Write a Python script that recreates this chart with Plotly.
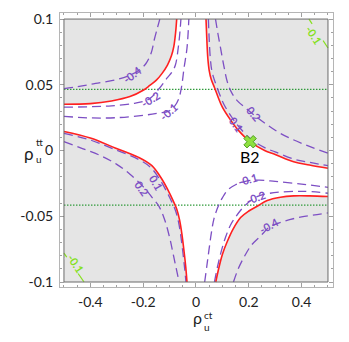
import plotly.graph_objects as go

# axis ticks
x_tickvals = [-0.4, -0.2, 0, 0.2, 0.4]
x_ticktext = ["-0.4", "-0.2", "0", "0.2", "0.4"]
y_tickvals = [-0.1, -0.05, 0, 0.05, 0.1]
y_ticktext = ["-0.1", "-0.05", "0", "0.05", "0.1"]

# red boundary, four branches
red_ul_x = [-0.5, -0.4, -0.32, -0.25, -0.2, -0.175, -0.15, -0.129, -0.108, -0.093, -0.084, -0.077, -0.073]
red_ul_y = [0.0352, 0.0357, 0.0377, 0.041, 0.0458, 0.0495, 0.0535, 0.0585, 0.065, 0.072, 0.079, 0.09, 0.1]
red_ur_x = [0.038, 0.041, 0.045, 0.05, 0.058, 0.07, 0.085, 0.1, 0.13, 0.16, 0.205, 0.26, 0.3, 0.37, 0.43, 0.5]
red_ur_y = [0.1, 0.085, 0.07, 0.061, 0.054, 0.048, 0.04, 0.033, 0.0235, 0.0155, 0.0067, 0.0, -0.003, -0.0085, -0.011, -0.0135]
red_ll_x = [-0.5, -0.4, -0.306, -0.217, -0.167, -0.13, -0.105, -0.088, -0.073, -0.062, -0.053, -0.045, -0.039, -0.034]
red_ll_y = [0.0145, 0.0095, 0.002, -0.0052, -0.0115, -0.0215, -0.0305, -0.0375, -0.0445, -0.053, -0.064, -0.077, -0.088, -0.1]
red_lr_x = [0.075, 0.087, 0.1, 0.117, 0.14, 0.169, 0.2, 0.235, 0.27, 0.32, 0.37, 0.43, 0.5]
red_lr_y = [-0.1, -0.089, -0.079, -0.07, -0.06, -0.051, -0.046, -0.042, -0.038, -0.0355, -0.0345, -0.0345, -0.035]

# purple dashed contours
ul_m04_x = [-0.5, -0.45, -0.38, -0.3, -0.242, -0.21, -0.19, -0.17, -0.157, -0.145, -0.137]
ul_m04_y = [0.047, 0.0485, 0.051, 0.054, 0.058, 0.062, 0.066, 0.074, 0.085, 0.094, 0.1]
ul_m02_x = [-0.5, -0.4, -0.32, -0.23, -0.175, -0.14, -0.11, -0.09, -0.078, -0.066, -0.06, -0.057]
ul_m02_y = [0.033, 0.0333, 0.034, 0.036, 0.0395, 0.047, 0.055, 0.06, 0.065, 0.08, 0.092, 0.1]
ul_m01_x = [-0.5, -0.4, -0.3, -0.19, -0.14, -0.103, -0.08, -0.066, -0.055, -0.045, -0.034, -0.027]
ul_m01_y = [0.026, 0.0248, 0.025, 0.027, 0.0285, 0.03, 0.034, 0.039, 0.048, 0.063, 0.078, 0.1]

ll_p01_x = [-0.5, -0.4, -0.306, -0.22, -0.171, -0.134, -0.109, -0.092, -0.077, -0.066, -0.057, -0.049, -0.043, -0.038]
ll_p01_y = [0.013, 0.008, 0.0007, -0.0065, -0.013, -0.023, -0.032, -0.039, -0.046, -0.0545, -0.0655, -0.0785, -0.0895, -0.1]
ll_p02_x = [-0.5, -0.43, -0.36, -0.3, -0.25, -0.2, -0.165, -0.14, -0.118, -0.1, -0.085, -0.064]
ll_p02_y = [0.0068, 0.0015, -0.004, -0.0105, -0.018, -0.0275, -0.036, -0.0425, -0.053, -0.066, -0.08, -0.1]

ur_p01_x = [0.047, 0.05, 0.054, 0.059, 0.066, 0.077, 0.091, 0.106, 0.135, 0.165, 0.208, 0.262, 0.3, 0.37, 0.43, 0.5]
ur_p01_y = [0.1, 0.085, 0.071, 0.062, 0.056, 0.0495, 0.042, 0.035, 0.0255, 0.0175, 0.0087, 0.002, -0.001, -0.0065, -0.009, -0.0115]
ur_p02_x = [0.074, 0.083, 0.093, 0.105, 0.119, 0.135, 0.156, 0.19, 0.22, 0.26, 0.32, 0.4, 0.5]
ur_p02_y = [0.1, 0.089, 0.078, 0.065, 0.052, 0.044, 0.038, 0.032, 0.027, 0.021, 0.013, 0.0055, -0.002]

lr_m01_x = [0.033, 0.041, 0.049, 0.058, 0.068, 0.085, 0.1, 0.12, 0.15, 0.194, 0.24, 0.3, 0.4, 0.5]
lr_m01_y = [-0.1, -0.088, -0.076, -0.063, -0.052, -0.042, -0.036, -0.03, -0.026, -0.023, -0.0225, -0.0235, -0.0255, -0.028]
lr_m02_x = [0.07, 0.082, 0.098, 0.112, 0.13, 0.15, 0.18, 0.226, 0.28, 0.4, 0.5]
lr_m02_y = [-0.1, -0.088, -0.075, -0.066, -0.057, -0.0506, -0.043, -0.0356, -0.0325, -0.031, -0.0325]
lr_m04_x = [0.142, 0.16, 0.185, 0.21, 0.245, 0.28, 0.33, 0.4, 0.5]
lr_m04_y = [-0.1, -0.09, -0.08, -0.072, -0.065, -0.058, -0.054, -0.0505, -0.0475]

# green contour pieces in the corners
green_tr_x = [0.428, 0.465, 0.5]
green_tr_y = [0.1, 0.0885, 0.078]
green_bl_x = [-0.5, -0.462, -0.424]
green_bl_y = [-0.078, -0.089, -0.1]

# green dotted horizontal limits
limit_y = [0.0465, -0.0416]

# benchmark point
b2_x = [0.205]
b2_y = [0.0067]

# contour labels: text, x, y, angle
purple_labels = [
    ("-0.4", -0.242, 0.058, -37),
    ("-0.2", -0.174, 0.0385, -32),
    ("-0.1", -0.103, 0.0295, -42),
    ("0.1", -0.150, -0.024, 60),
    ("0.2", -0.205, -0.029, 55),
    ("0.1", 0.154, 0.020, 55),
    ("0.2", 0.218, 0.028, 50),
    ("-0.1", 0.194, -0.022, -15),
    ("-0.2", 0.226, -0.0356, -20),
    ("-0.4", 0.277, -0.057, -28),
]
green_labels = [
    ("-0.1", 0.445, 0.088, 57),
    ("-0.1", -0.455, -0.086, 57),
]

RED = "#ff2020"
PURPLE = "#7d4fc4"
GRAY = "#e5e5e5"

fig = go.Figure()

# white allowed region built from the red branches
fill_x = red_ul_x + red_ur_x + red_lr_x[::-1] + red_ll_x[::-1]
fill_y = red_ul_y + red_ur_y + red_lr_y[::-1] + red_ll_y[::-1]
fig.add_trace(go.Scatter(x=fill_x, y=fill_y, mode="lines", fill="toself",
                         fillcolor="white", line=dict(width=0), hoverinfo="skip"))

for ly in limit_y:
    fig.add_trace(go.Scatter(x=[-0.5, 0.5], y=[ly, ly], mode="lines",
                             line=dict(color="#2f9a3a", width=1.3, dash="1.5px,1.5px")))

dashed = [(ul_m04_x, ul_m04_y), (ul_m02_x, ul_m02_y), (ul_m01_x, ul_m01_y),
          (ll_p01_x, ll_p01_y), (ll_p02_x, ll_p02_y),
          (ur_p01_x, ur_p01_y), (ur_p02_x, ur_p02_y),
          (lr_m01_x, lr_m01_y), (lr_m02_x, lr_m02_y), (lr_m04_x, lr_m04_y)]
for cx, cy in dashed:
    fig.add_trace(go.Scatter(x=cx, y=cy, mode="lines",
                             line=dict(color=PURPLE, width=1.3, dash="9px,5px", shape="spline")))

for cx, cy in [(red_ul_x, red_ul_y), (red_ur_x, red_ur_y), (red_ll_x, red_ll_y), (red_lr_x, red_lr_y)]:
    fig.add_trace(go.Scatter(x=cx, y=cy, mode="lines",
                             line=dict(color=RED, width=1.6, shape="spline")))

for cx, cy in [(green_tr_x, green_tr_y), (green_bl_x, green_bl_y)]:
    fig.add_trace(go.Scatter(x=cx, y=cy, mode="lines",
                             line=dict(color="#86e01e", width=1.2)))

fig.add_trace(go.Scatter(x=b2_x, y=b2_y, mode="markers",
                         marker=dict(symbol="x", size=11, color="#8fe040",
                                     line=dict(color="#4fa020", width=1))))

for txt, lx, ly, ang in purple_labels:
    fig.add_annotation(x=lx, y=ly, text="<b>" + txt + "</b>", showarrow=False, textangle=ang,
                       font=dict(family="Lato", size=11, color=PURPLE))
for txt, lx, ly, ang in green_labels:
    fig.add_annotation(x=lx, y=ly, text="<b>" + txt + "</b>", showarrow=False, textangle=ang,
                       bgcolor=GRAY, borderpad=0,
                       font=dict(family="Lato", size=11, color="#86e01e"))

fig.add_annotation(x=b2_x[0], y=b2_y[0], text="B2", showarrow=False, yshift=-15,
                   font=dict(family="Lato", size=16, color="black"))

# axis titles: rho with stacked sub/superscripts (paper coordinates)
title_parts = [
    (-0.0916, 0.489, "ρ", 17, "right"), (-0.0916, 0.529, "tt", 10, "left"), (-0.0916, 0.467, "u", 10, "left"),
    (0.5238, -0.1496, "ρ", 16, "right"), (0.5238, -0.1277, "ct", 10, "left"), (0.5238, -0.1715, "u", 10, "left"),
]
for px, py, t, s, anc in title_parts:
    fig.add_annotation(x=px, y=py, xref="paper", yref="paper", text=t, showarrow=False,
                       xanchor=anc, borderpad=0, font=dict(family="Lato", size=s, color="#222"))

fig.add_shape(type="rect", x0=-0.5, x1=0.5, y0=-0.1, y1=0.1, layer="below",
              fillcolor=GRAY, line=dict(width=0))
fig.add_shape(type="rect", x0=-0.5, x1=0.5, y0=-0.1, y1=0.1, layer="above",
              line=dict(color="#6b6b6b", width=1))

axis_common = dict(showgrid=False, zeroline=False, showline=True, linecolor="#b5b5b5",
                   linewidth=1, mirror="ticks", ticks="inside", ticklen=4, tickcolor="#a0a0a0",
                   automargin=False,
                   tickfont=dict(family="Lato", size=14, color="#222"))
fig.update_xaxes(range=[-0.515, 0.519], tickvals=x_tickvals, ticktext=x_ticktext,
                 minor=dict(dtick=0.05, tick0=0, ticks="inside", ticklen=2, tickcolor="#a0a0a0"),
                 ticklabelstandoff=2, **axis_common)
fig.update_yaxes(range=[-0.1038, 0.1046], tickvals=y_tickvals, ticktext=y_ticktext,
                 minor=dict(dtick=0.01, tick0=0, ticks="inside", ticklen=2, tickcolor="#a0a0a0"),
                 ticklabelstandoff=3, **axis_common)

# the page body adds an 8px offset, so the figure is 8px smaller than the window
fig.update_layout(width=341, height=334, margin=dict(l=52, r=16, t=5, b=55),
                  plot_bgcolor="white", paper_bgcolor="white", showlegend=False)

fig.write_html("out.html")
